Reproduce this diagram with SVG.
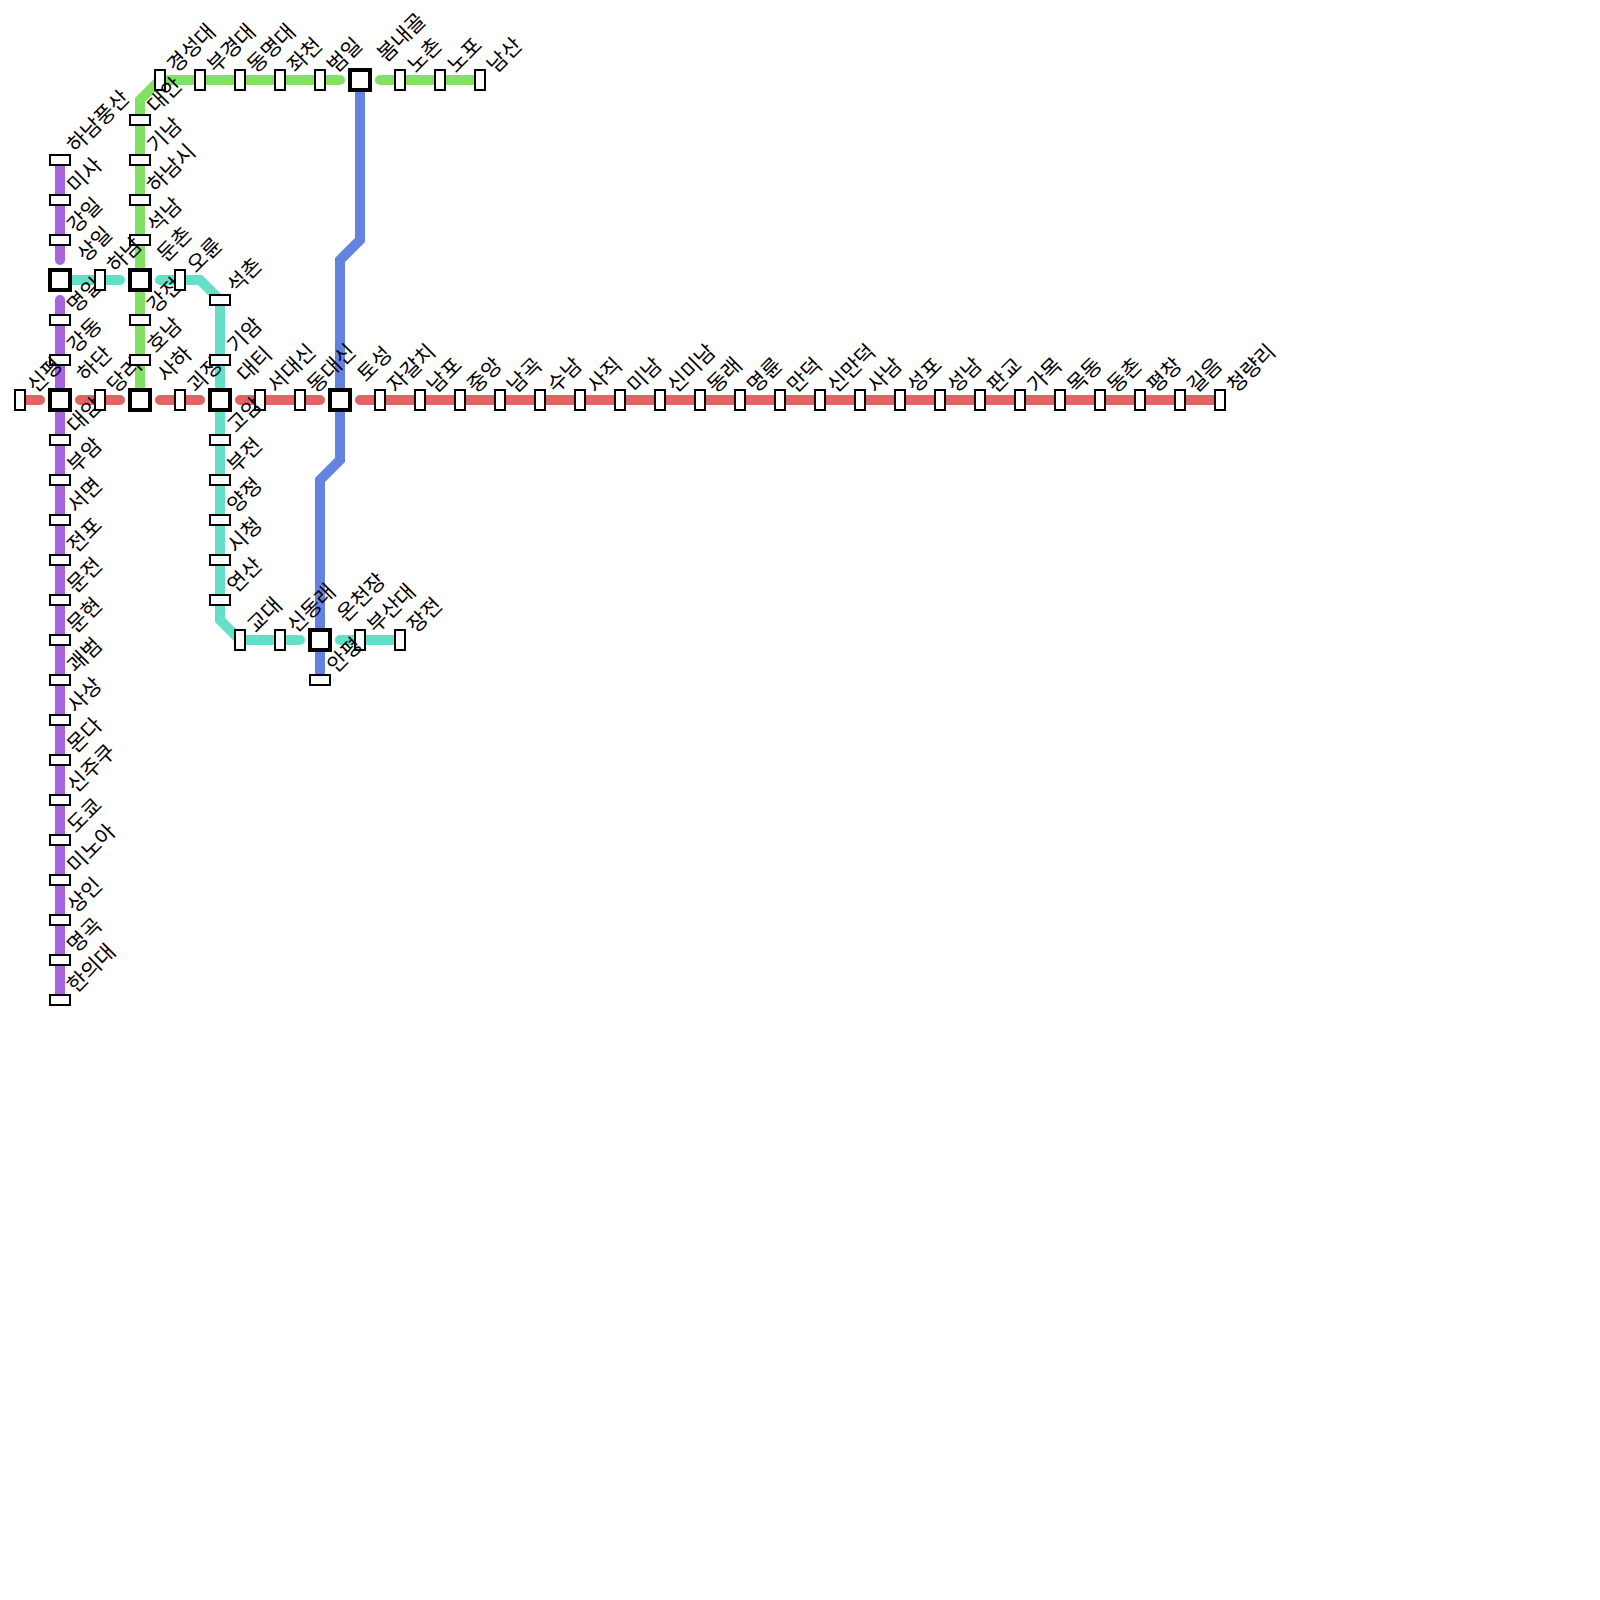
<svg xmlns="http://www.w3.org/2000/svg" width="1600" height="1600" viewBox="0 0 1600 1600">
<style>
.l{fill:none;stroke-width:10;stroke-linecap:round;stroke-linejoin:miter}
.r{stroke:#e06464}.p{stroke:#a664e0}.t{stroke:#64e0c8}.g{stroke:#82e064}.b{stroke:#6482e0}
.s{fill:#fff;stroke:#000;stroke-width:2}
.x{fill:#fff;stroke:#000;stroke-width:4}
text{font-family:"Liberation Sans","Noto Sans CJK KR",sans-serif;font-size:21px;fill:#000}
</style>
<defs>
<rect id="v" class="s" x="-5" y="-10" width="10" height="20"/>
<rect id="h" class="s" x="-10" y="-5" width="20" height="10"/>
<rect id="i" class="x" x="-10" y="-10" width="20" height="20"/>
</defs>
<g id="connectors">
<path class="l r" d="M20 400H40M80 400H120M160 400H200M240 400H320M360 400H1220"/>
<path class="l p" d="M60 160V260M60 300V1000"/>
<path class="l g" d="M340 80H160L140 100V400M380 80H480"/>
<path class="l t" d="M60 280H120M160 280H200L220 300V620L240 640H300M340 640H400"/>
<path class="l b" d="M360 80V240L340 260V460L320 480V680"/>
</g>
<g id="n1"><use href="#h" x="60" y="160"/><text transform="translate(76 154) rotate(-45)">하남풍산</text></g>
<g id="n2"><use href="#h" x="60" y="200"/><text transform="translate(76 194) rotate(-45)">미사</text></g>
<g id="n3"><use href="#h" x="60" y="240"/><text transform="translate(76 234) rotate(-45)">강일</text></g>
<g id="n4"><use href="#i" x="60" y="280"/><text transform="translate(86 263) rotate(-45)">상일</text></g>
<g id="n5"><use href="#h" x="60" y="320"/><text transform="translate(76 314) rotate(-45)">명일</text></g>
<g id="n6"><use href="#h" x="60" y="360"/><text transform="translate(76 354) rotate(-45)">강동</text></g>
<g id="n7"><use href="#i" x="60" y="400"/><text transform="translate(86 383) rotate(-45)">하단</text></g>
<g id="n8"><use href="#h" x="60" y="440"/><text transform="translate(76 434) rotate(-45)">대암</text></g>
<g id="n9"><use href="#h" x="60" y="480"/><text transform="translate(76 474) rotate(-45)">부암</text></g>
<g id="n10"><use href="#h" x="60" y="520"/><text transform="translate(76 514) rotate(-45)">서면</text></g>
<g id="n11"><use href="#h" x="60" y="560"/><text transform="translate(76 554) rotate(-45)">전포</text></g>
<g id="n12"><use href="#h" x="60" y="600"/><text transform="translate(76 594) rotate(-45)">문전</text></g>
<g id="n13"><use href="#h" x="60" y="640"/><text transform="translate(76 634) rotate(-45)">문현</text></g>
<g id="n14"><use href="#h" x="60" y="680"/><text transform="translate(76 674) rotate(-45)">괘범</text></g>
<g id="n15"><use href="#h" x="60" y="720"/><text transform="translate(76 714) rotate(-45)">사상</text></g>
<g id="n16"><use href="#h" x="60" y="760"/><text transform="translate(76 754) rotate(-45)">몬다</text></g>
<g id="n17"><use href="#h" x="60" y="800"/><text transform="translate(76 794) rotate(-45)">신주쿠</text></g>
<g id="n18"><use href="#h" x="60" y="840"/><text transform="translate(76 834) rotate(-45)">도쿄</text></g>
<g id="n19"><use href="#h" x="60" y="880"/><text transform="translate(76 874) rotate(-45)">미노아</text></g>
<g id="n20"><use href="#h" x="60" y="920"/><text transform="translate(76 914) rotate(-45)">상인</text></g>
<g id="n21"><use href="#h" x="60" y="960"/><text transform="translate(76 954) rotate(-45)">명곡</text></g>
<g id="n22"><use href="#h" x="60" y="1000"/><text transform="translate(76 994) rotate(-45)">한의대</text></g>
<g id="n23"><use href="#v" x="20" y="400"/><text transform="translate(36 394) rotate(-45)">신평</text></g>
<g id="n24"><use href="#v" x="100" y="400"/><text transform="translate(116 394) rotate(-45)">당리</text></g>
<g id="n25"><use href="#i" x="140" y="400"/><text transform="translate(166 383) rotate(-45)">사하</text></g>
<g id="n26"><use href="#v" x="180" y="400"/><text transform="translate(196 394) rotate(-45)">괴정</text></g>
<g id="n27"><use href="#i" x="220" y="400"/><text transform="translate(246 383) rotate(-45)">대티</text></g>
<g id="n28"><use href="#v" x="260" y="400"/><text transform="translate(276 394) rotate(-45)">서대신</text></g>
<g id="n29"><use href="#v" x="300" y="400"/><text transform="translate(316 394) rotate(-45)">동대신</text></g>
<g id="n30"><use href="#i" x="340" y="400"/><text transform="translate(366 383) rotate(-45)">토성</text></g>
<g id="n31"><use href="#v" x="380" y="400"/><text transform="translate(396 394) rotate(-45)">자갈치</text></g>
<g id="n32"><use href="#v" x="420" y="400"/><text transform="translate(436 394) rotate(-45)">남포</text></g>
<g id="n33"><use href="#v" x="460" y="400"/><text transform="translate(476 394) rotate(-45)">중앙</text></g>
<g id="n34"><use href="#v" x="500" y="400"/><text transform="translate(516 394) rotate(-45)">남곡</text></g>
<g id="n35"><use href="#v" x="540" y="400"/><text transform="translate(556 394) rotate(-45)">수남</text></g>
<g id="n36"><use href="#v" x="580" y="400"/><text transform="translate(596 394) rotate(-45)">사직</text></g>
<g id="n37"><use href="#v" x="620" y="400"/><text transform="translate(636 394) rotate(-45)">미남</text></g>
<g id="n38"><use href="#v" x="660" y="400"/><text transform="translate(676 394) rotate(-45)">신미남</text></g>
<g id="n39"><use href="#v" x="700" y="400"/><text transform="translate(716 394) rotate(-45)">동래</text></g>
<g id="n40"><use href="#v" x="740" y="400"/><text transform="translate(756 394) rotate(-45)">명륜</text></g>
<g id="n41"><use href="#v" x="780" y="400"/><text transform="translate(796 394) rotate(-45)">만덕</text></g>
<g id="n42"><use href="#v" x="820" y="400"/><text transform="translate(836 394) rotate(-45)">신만덕</text></g>
<g id="n43"><use href="#v" x="860" y="400"/><text transform="translate(876 394) rotate(-45)">사남</text></g>
<g id="n44"><use href="#v" x="900" y="400"/><text transform="translate(916 394) rotate(-45)">성포</text></g>
<g id="n45"><use href="#v" x="940" y="400"/><text transform="translate(956 394) rotate(-45)">성남</text></g>
<g id="n46"><use href="#v" x="980" y="400"/><text transform="translate(996 394) rotate(-45)">판교</text></g>
<g id="n47"><use href="#v" x="1020" y="400"/><text transform="translate(1036 394) rotate(-45)">가목</text></g>
<g id="n48"><use href="#v" x="1060" y="400"/><text transform="translate(1076 394) rotate(-45)">목동</text></g>
<g id="n49"><use href="#v" x="1100" y="400"/><text transform="translate(1116 394) rotate(-45)">동촌</text></g>
<g id="n50"><use href="#v" x="1140" y="400"/><text transform="translate(1156 394) rotate(-45)">평창</text></g>
<g id="n51"><use href="#v" x="1180" y="400"/><text transform="translate(1196 394) rotate(-45)">길음</text></g>
<g id="n52"><use href="#v" x="1220" y="400"/><text transform="translate(1236 394) rotate(-45)">청량리</text></g>
<g id="n53"><use href="#v" x="160" y="80"/><text transform="translate(176 74) rotate(-45)">경성대</text></g>
<g id="n54"><use href="#v" x="200" y="80"/><text transform="translate(216 74) rotate(-45)">부경대</text></g>
<g id="n55"><use href="#v" x="240" y="80"/><text transform="translate(256 74) rotate(-45)">동명대</text></g>
<g id="n56"><use href="#v" x="280" y="80"/><text transform="translate(296 74) rotate(-45)">좌천</text></g>
<g id="n57"><use href="#v" x="320" y="80"/><text transform="translate(336 74) rotate(-45)">범일</text></g>
<g id="n58"><use href="#i" x="360" y="80"/><text transform="translate(386 63) rotate(-45)">봄내골</text></g>
<g id="n59"><use href="#v" x="400" y="80"/><text transform="translate(416 74) rotate(-45)">노촌</text></g>
<g id="n60"><use href="#v" x="440" y="80"/><text transform="translate(456 74) rotate(-45)">노포</text></g>
<g id="n61"><use href="#v" x="480" y="80"/><text transform="translate(496 74) rotate(-45)">남산</text></g>
<g id="n62"><use href="#h" x="140" y="120"/><text transform="translate(156 114) rotate(-45)">대안</text></g>
<g id="n63"><use href="#h" x="140" y="160"/><text transform="translate(156 154) rotate(-45)">기남</text></g>
<g id="n64"><use href="#h" x="140" y="200"/><text transform="translate(156 194) rotate(-45)">하남시</text></g>
<g id="n65"><use href="#h" x="140" y="240"/><text transform="translate(156 234) rotate(-45)">석남</text></g>
<g id="n66"><use href="#i" x="140" y="280"/><text transform="translate(166 263) rotate(-45)">둔촌</text></g>
<g id="n67"><use href="#h" x="140" y="320"/><text transform="translate(156 314) rotate(-45)">강전</text></g>
<g id="n68"><use href="#h" x="140" y="360"/><text transform="translate(156 354) rotate(-45)">호남</text></g>
<g id="n69"><use href="#v" x="100" y="280"/><text transform="translate(116 274) rotate(-45)">하남</text></g>
<g id="n70"><use href="#v" x="180" y="280"/><text transform="translate(196 274) rotate(-45)">오륜</text></g>
<g id="n71"><use href="#h" x="220" y="300"/><text transform="translate(236 294) rotate(-45)">석촌</text></g>
<g id="n72"><use href="#h" x="220" y="360"/><text transform="translate(236 354) rotate(-45)">기암</text></g>
<g id="n73"><use href="#h" x="220" y="440"/><text transform="translate(236 434) rotate(-45)">고암</text></g>
<g id="n74"><use href="#h" x="220" y="480"/><text transform="translate(236 474) rotate(-45)">부전</text></g>
<g id="n75"><use href="#h" x="220" y="520"/><text transform="translate(236 514) rotate(-45)">양정</text></g>
<g id="n76"><use href="#h" x="220" y="560"/><text transform="translate(236 554) rotate(-45)">시청</text></g>
<g id="n77"><use href="#h" x="220" y="600"/><text transform="translate(236 594) rotate(-45)">연산</text></g>
<g id="n78"><use href="#v" x="240" y="640"/><text transform="translate(256 634) rotate(-45)">교대</text></g>
<g id="n79"><use href="#v" x="280" y="640"/><text transform="translate(296 634) rotate(-45)">신동래</text></g>
<g id="n80"><use href="#i" x="320" y="640"/><text transform="translate(346 623) rotate(-45)">온천장</text></g>
<g id="n81"><use href="#v" x="360" y="640"/><text transform="translate(376 634) rotate(-45)">부산대</text></g>
<g id="n82"><use href="#v" x="400" y="640"/><text transform="translate(416 634) rotate(-45)">장전</text></g>
<g id="n83"><use href="#h" x="320" y="680"/><text transform="translate(336 674) rotate(-45)">안평</text></g>
</svg>
